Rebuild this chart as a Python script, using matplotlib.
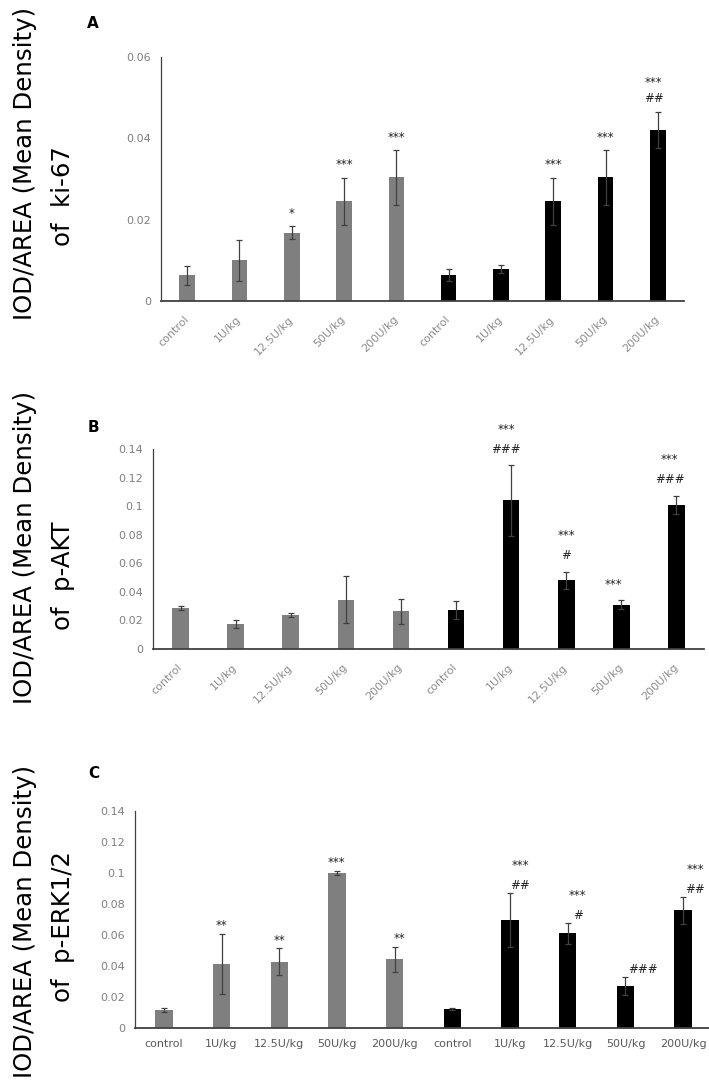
import matplotlib
matplotlib.use("Agg")
import matplotlib.pyplot as plt
import numpy as np

#================   data   ============================================
groups = ["control", "1U/kg", "12.5U/kg", "50U/kg", "200U/kg"]
tick_labels = groups + groups
bar_colors = ["#7f7f7f"] * 5 + ["#000000"] * 5

# A: ki-67
ki67_mean = [0.0063, 0.0100, 0.0168, 0.0245, 0.0304, 0.0063, 0.0078, 0.0245, 0.0304, 0.0420]
ki67_err = [0.0023, 0.0051, 0.0016, 0.0058, 0.0067, 0.0015, 0.0010, 0.0058, 0.0067, 0.0045]
ki67_sig = ["", "", "*", "***", "***", "", "", "***", "***", "***\n##"]

# B: p-AKT
akt_mean = [0.0287, 0.0175, 0.0238, 0.0345, 0.0264, 0.0271, 0.1040, 0.0480, 0.0310, 0.1008]
akt_err = [0.0016, 0.0030, 0.0014, 0.0164, 0.0086, 0.0063, 0.0247, 0.0060, 0.0030, 0.0065]
akt_sig = ["", "", "", "", "", "", "***\n###", "***\n#", "***", "***\n###"]

# C: p-ERK1/2
erk_mean = [0.0115, 0.0414, 0.0429, 0.1000, 0.0444, 0.0122, 0.0695, 0.0610, 0.0272, 0.0759]
erk_err = [0.0012, 0.0194, 0.0085, 0.0015, 0.0081, 0.0006, 0.0175, 0.0067, 0.0056, 0.0086]
erk_sig = ["", "**", "**", "***", "**", "", "***\n##", "***\n#", "###", "***\n##"]

W, H = 709, 1083
fig = plt.figure(figsize=(W / 100, H / 100), dpi=100)


def px_axes(left, right, top, bottom):
    # pixel box -> figure fraction
    return fig.add_axes([left / W, 1 - bottom / H, (right - left) / W, (bottom - top) / H])


def panel(ax, mean, err, sig, ymax, step, rotate, first_px, gap_px, dx_px, lab_color):
    x = np.arange(len(mean))
    ax.bar(x, mean, width=0.3, color=bar_colors, zorder=2)
    ax.errorbar(x, mean, yerr=err, fmt="none", ecolor="#404040", elinewidth=0.9,
                capsize=2.5, capthick=0.9, zorder=3)
    ax.set_xlim(-0.5, 9.5)
    ax.set_ylim(0, ymax)
    ticks = np.arange(0, ymax + step / 2, step)
    ax.set_yticks(ticks)
    ax.set_yticklabels(["0"] + ["%g" % t for t in ticks[1:]])
    ax.set_xticks(x)
    if rotate:
        ax.set_xticklabels(tick_labels, rotation=45, ha="right", va="center",
                           rotation_mode="anchor", fontsize=8, color=lab_color)
        ax.tick_params(axis="x", pad=12)
    else:
        ax.set_xticklabels(tick_labels, fontsize=8, color=lab_color)
        ax.tick_params(axis="x", pad=8)
    ax.tick_params(axis="y", labelsize=8, labelcolor="#7f7f7f", pad=7)
    ax.tick_params(length=0)
    for s in ["top", "right"]:
        ax.spines[s].set_visible(False)
    ax.spines["left"].set_color("#404040")
    ax.spines["left"].set_linewidth(0.9)
    ax.spines["bottom"].set_color("#404040")
    ax.spines["bottom"].set_linewidth(1.3)
    for i, s in enumerate(sig):
        if not s:
            continue
        for j, line in enumerate(reversed(s.split("\n"))):
            ax.annotate(line, (x[i], mean[i] + err[i]),
                        xytext=(dx_px[i] * 0.72, (first_px + j * gap_px) * 0.72),
                        textcoords="offset points", ha="center", va="center",
                        fontsize=8.5, color="#222222")


axA = px_axes(161, 684, 57, 301)
panel(axA, ki67_mean, ki67_err, ki67_sig, 0.06, 0.02, True, 13, 16,
      [0] * 9 + [-4], "#8c8c8c")
axB = px_axes(153, 704, 449, 649)
panel(axB, akt_mean, akt_err, akt_sig, 0.14, 0.02, True, 16, 20,
      [0] * 6 + [-5, 0, -8, -7], "#8c8c8c")
axC = px_axes(135, 712, 811, 1028)
panel(axC, erk_mean, erk_err, erk_sig, 0.14, 0.02, False, 8, 20,
      [0, 0, 0, 0, 5, 0, 10, 10, 17, 12], "#595959")

# panel letters
for letter, (lx, ly) in zip("ABC", [(93, 23), (93, 427), (94, 773)]):
    fig.text(lx / W, 1 - ly / H, letter, fontsize=11, fontweight="bold",
             ha="center", va="center")

# big two-line y labels
ylab2 = ["of  ki-67", "of  p-AKT", "of  p-ERK1/2"]
line1_y = [163, 547, 921]
line2_y = [196, 576, 926]
for t, y1, y2 in zip(ylab2, line1_y, line2_y):
    fig.text(25 / W, 1 - y1 / H, "IOD/AREA (Mean Density)", rotation=90,
             fontsize=17.6, ha="center", va="center")
    fig.text(63 / W, 1 - y2 / H, t, rotation=90, fontsize=17.6, ha="center", va="center")

fig.savefig("out.png", dpi=100)
